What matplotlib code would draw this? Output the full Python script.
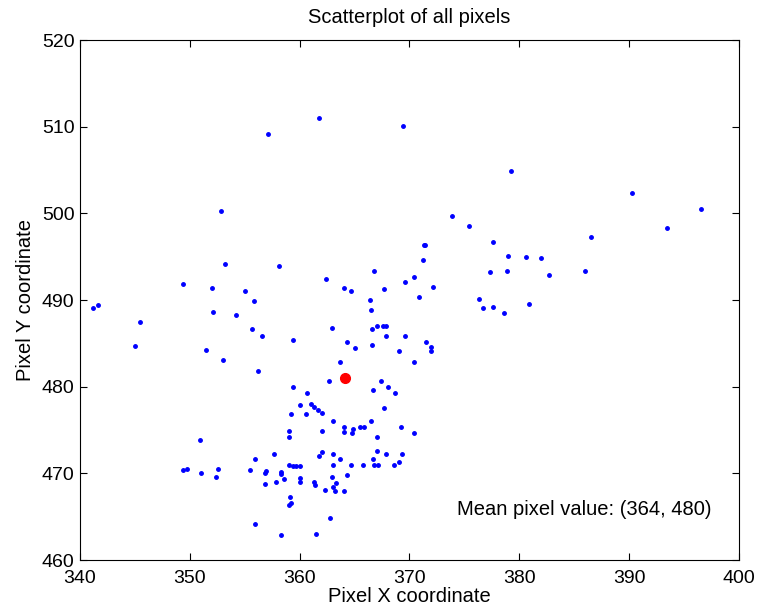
import matplotlib
matplotlib.use('Agg')
import matplotlib.pyplot as plt

plt.rcParams['font.family'] = ['Liberation Sans', 'DejaVu Sans']

# pixel coordinates
pixel_x = [
    361.8, 357.1, 369.4, 379.2, 352.8, 390.3, 396.5, 393.4, 373.9, 375.4,
    386.5, 377.6, 371.3, 371.4, 371.2, 379.0, 380.6, 382.0, 378.9, 377.3,
    382.7, 386.0, 370.4, 369.6, 372.1, 370.9, 376.3, 376.7, 377.6, 378.6,
    380.9, 353.2, 358.1, 349.4, 352.0, 355.0, 355.8, 362.4, 364.0, 364.7,
    366.8, 367.7, 366.4, 366.5, 341.2, 341.6, 345.5, 345.0, 352.1, 354.2,
    355.7, 356.6, 351.5, 353.0, 356.2, 359.4, 362.9, 364.3, 365.0, 366.6,
    367.0, 367.6, 367.9, 367.9, 366.6, 369.6, 369.0, 363.7, 362.7, 371.5,
    372.0, 372.0, 370.4, 359.4, 360.7, 367.4, 368.0, 366.7, 368.7,
    360.0, 361.0, 361.3, 361.7, 362.0, 359.2, 360.6, 367.7, 363.0, 364.0,
    364.9, 365.5, 365.9, 366.5, 364.0, 364.8, 359.0, 359.0, 362.0, 367.0,
    369.2, 370.4, 350.9, 355.9, 357.7, 362.0, 361.8, 363.0, 363.7, 367.0,
    367.9, 369.3, 366.7, 349.4, 349.7, 351.0, 352.6, 352.4, 355.5, 356.9,
    356.8, 358.3, 358.3, 359.0, 359.4, 359.7, 360.0, 363.0, 364.7, 365.8,
    366.8, 367.1, 369.0, 368.6, 356.8, 357.8, 358.6, 360.0, 360.0, 361.3,
    361.4, 362.9, 363.3, 363.0, 363.2, 362.3, 364.0, 364.3, 359.1, 359.2,
    359.0, 355.9, 358.3, 361.5, 362.8,
]
pixel_y = [
    511.0, 509.1, 510.1, 504.9, 500.3, 502.3, 500.5, 498.3, 499.7, 498.5,
    497.3, 496.7, 496.3, 496.3, 494.6, 495.1, 495.0, 494.9, 493.4, 493.2,
    492.9, 493.3, 492.7, 492.1, 491.5, 490.4, 490.1, 489.1, 489.2, 488.5,
    489.5, 494.2, 493.9, 491.8, 491.4, 491.0, 489.9, 492.4, 491.4, 491.0,
    493.3, 491.3, 490.0, 488.9, 489.1, 489.4, 487.5, 484.7, 488.6, 488.3,
    486.6, 485.9, 484.2, 483.1, 481.8, 485.4, 486.8, 485.1, 484.5, 486.7,
    487.0, 487.0, 487.0, 485.8, 484.8, 485.9, 484.1, 482.8, 480.7, 485.1,
    484.6, 484.1, 482.8, 480.0, 479.3, 480.6, 480.0, 479.6, 479.3,
    477.9, 478.0, 477.7, 477.3, 477.0, 476.8, 476.8, 477.5, 476.0, 475.3,
    475.1, 475.4, 475.3, 476.0, 474.8, 474.6, 474.9, 474.2, 474.9, 474.2,
    475.4, 474.6, 473.8, 471.7, 472.2, 472.5, 472.0, 472.2, 471.7, 472.6,
    472.2, 472.2, 471.6, 470.4, 470.5, 470.0, 470.5, 469.6, 470.4, 470.3,
    470.0, 470.2, 469.9, 471.0, 470.8, 470.8, 470.9, 471.0, 471.0, 471.0,
    471.0, 471.0, 471.3, 471.0, 468.8, 469.0, 469.4, 469.5, 469.0, 469.0,
    468.6, 469.6, 468.9, 468.4, 468.0, 468.1, 468.0, 469.8, 467.3, 466.6,
    466.3, 464.1, 462.9, 463.0, 464.9,
]

mean_x = 364.15
mean_y = 481.0
mean_label = 'Mean pixel value: (364, 480)'

fig = plt.figure(figsize=(7.59, 6.14), dpi=100)
ax = fig.add_axes([80 / 759, 54 / 614, 659 / 759, 520 / 614])

ax.plot(pixel_x, pixel_y, '.', color='#0000ff', markersize=5)
ax.plot([mean_x], [mean_y], 'o', color='#ff0000', markersize=7)

ax.set_xlim(340, 400)
ax.set_ylim(460, 520)
ax.set_xticks(range(340, 401, 10))
ax.set_yticks(range(460, 521, 10))
ax.tick_params(direction='in', top=True, right=True, length=5, labelsize=14)
ax.tick_params(axis='x', pad=7)
ax.tick_params(axis='y', pad=4)

ax.set_title('Scatterplot of all pixels', fontsize=14.5, pad=12)
ax.set_xlabel('Pixel X coordinate', fontsize=14.5, labelpad=0)
ax.set_ylabel('Pixel Y coordinate', fontsize=14.5, labelpad=5)

ax.text(374.3, 465.8, mean_label, fontsize=14.5, va='center', ha='left')

fig.savefig('out.png', dpi=100)
